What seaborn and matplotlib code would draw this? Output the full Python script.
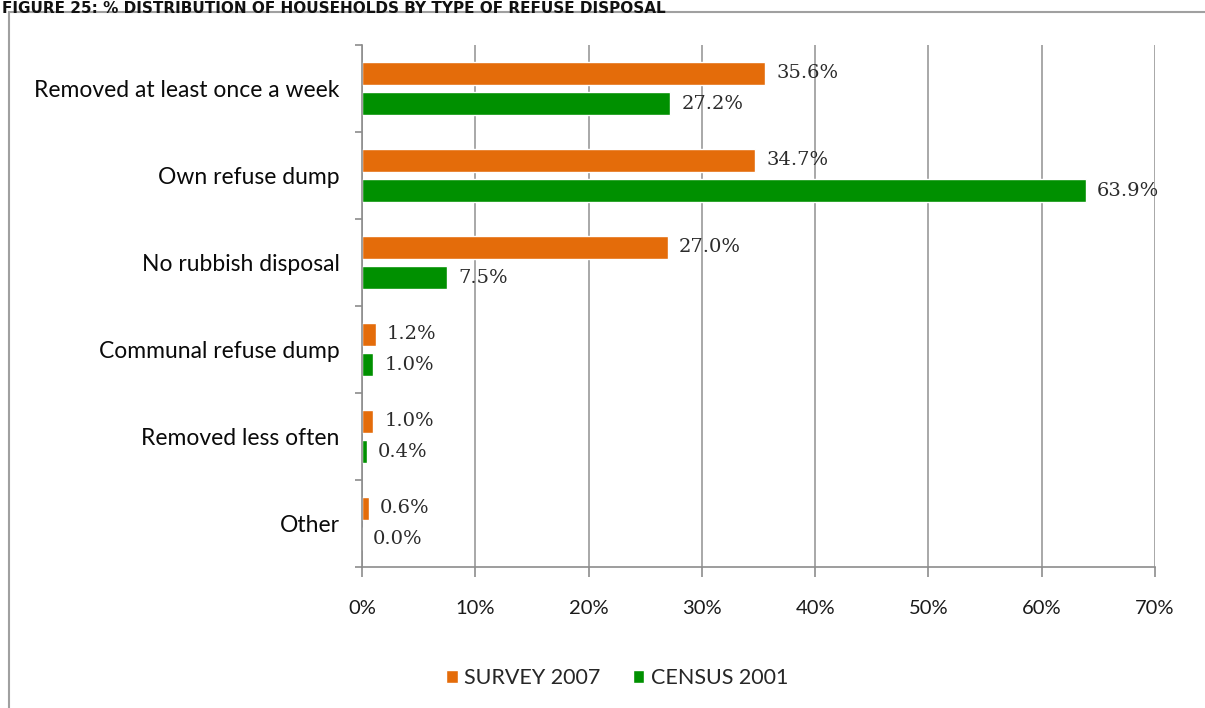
import matplotlib
matplotlib.use("Agg")
import matplotlib.pyplot as plt
from matplotlib.patches import Rectangle
from matplotlib.ticker import FixedLocator, MultipleLocator, PercentFormatter
import seaborn as sns
import pandas as pd

categories = ["Removed at least once a week", "Own refuse dump", "No rubbish disposal",
              "Communal refuse dump", "Removed less often", "Other"]
survey_2007 = [35.6, 34.7, 27.0, 1.2, 1.0, 0.6]
census_2001 = [27.2, 63.9, 7.5, 1.0, 0.4, 0.0]
series_names = ["SURVEY 2007", "CENSUS 2001"]
title = "FIGURE 25: % DISTRIBUTION OF HOUSEHOLDS BY TYPE OF REFUSE DISPOSAL"

df = pd.DataFrame({
    "category": categories * 2,
    "value": survey_2007 + census_2001,
    "series": [series_names[0]] * len(categories) + [series_names[1]] * len(categories),
})

sns.set_style("white")
plt.rcParams["font.family"] = ["Lato", "DejaVu Sans"]

W, H = 1205, 708
fig = plt.figure(figsize=(W / 100, H / 100), dpi=100)
ax = fig.add_axes([362 / W, 1 - 567 / H, (1155 - 362) / W, (567 - 45) / H])

colors = {"SURVEY 2007": "#E46C0A", "CENSUS 2001": "#009000"}
sns.barplot(data=df, y="category", x="value", hue="series", order=categories,
            hue_order=series_names, palette=colors, orient="h", width=0.69, gap=0.22,
            saturation=1, ax=ax, legend=True)

for cont, vals in zip(ax.containers, [survey_2007, census_2001]):
    ax.bar_label(cont, labels=[f"{v:.1f}%" for v in vals], padding=8,
                 fontsize=14, family="DejaVu Serif", color="#2b2b2b")

ax.set_xlim(0, 70)
ax.set_ylim(len(categories) - 0.5, -0.5)
ax.xaxis.set_major_locator(MultipleLocator(10))
ax.xaxis.set_major_formatter(PercentFormatter(decimals=0))
ax.set_xlabel("")
ax.set_ylabel("")
ax.grid(axis="x", color="#9a9a9a", linewidth=1.2)
ax.set_axisbelow(True)
for s in ["top", "right"]:
    ax.spines[s].set_visible(False)
for s in ["left", "bottom"]:
    ax.spines[s].set_color("#8c8c8c")
    ax.spines[s].set_linewidth(1.2)

ax.yaxis.set_minor_locator(FixedLocator([i - 0.5 for i in range(len(categories) + 1)]))
ax.tick_params(axis="y", which="major", length=0, pad=16, labelsize=16.5, labelcolor="#0a0a0a")
ax.tick_params(axis="y", which="minor", left=True, length=5, width=1.2, color="#8c8c8c")
ax.tick_params(axis="x", which="major", bottom=True, length=7, width=1.2, color="#8c8c8c",
               pad=17, labelsize=14.5, labelcolor="#1a1a1a")

handles, labels = ax.get_legend_handles_labels()
ax.legend_.remove()
fig.legend(handles, labels, loc="center", bbox_to_anchor=(617 / W, 1 - 678 / H), ncol=2,
           frameon=False, fontsize=15.5, handlelength=0.55, handleheight=0.55,
           handletextpad=0.3, columnspacing=1.5)

fig.patches.append(Rectangle((9 / W, -0.05), 1.2, 1 - 12 / H + 0.05, transform=fig.transFigure,
                             fill=False, edgecolor="#a0a0a0", linewidth=1.5))
fig.text(2 / W, 1 - 1 / H, title, fontsize=11, fontweight="bold", family="DejaVu Sans",
         va="top", ha="left", color="#111111")

fig.savefig("out.png", dpi=100)
